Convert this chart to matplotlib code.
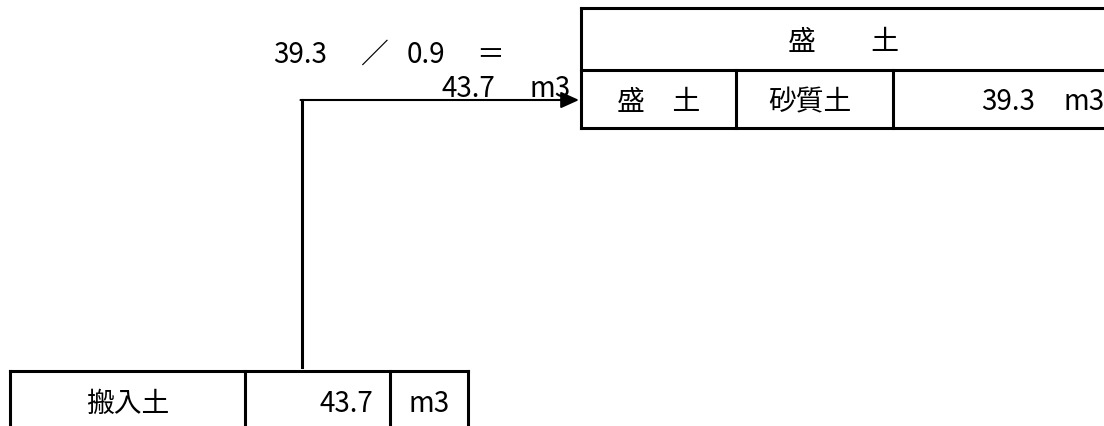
import matplotlib.pyplot as plt

plt.rcParams['font.family'] = ['Noto Sans CJK JP', 'DejaVu Sans']

# values
fill_volume = 39.3        # 盛土 (砂質土)
loosening_factor = 0.9
import_volume = 43.7      # 搬入土
unit = "m3"

header_label = "盛　　土"
row_labels = ["盛　土", "砂質土"]
import_label = "搬入土"

FS = 20
LW = 2.2

fig = plt.figure(figsize=(11.04, 4.27), dpi=100)
ax = fig.add_axes([0, 0, 1, 1])
ax.set_xlim(0, 1104)
ax.set_ylim(427, 0)
ax.axis("off")


def hline(x0, x1, y, lw=LW):
    ax.plot([x0, x1], [y, y], color="black", lw=lw, solid_capstyle="projecting")


def vline(x, y0, y1, lw=LW):
    ax.plot([x, x], [y0, y1], color="black", lw=lw, solid_capstyle="projecting")


# ---- fill table (top right) ----
left, c1, c2, right = 581, 736, 893, 1107
top, mid, bottom = 9, 71, 129
hline(left, right, top)
hline(left, right, mid)
hline(left, right, bottom)
vline(left, top, bottom)
vline(c1, mid, bottom)
vline(c2, mid, bottom)

ax.text((left + right) / 2, 50, header_label, fontsize=FS, ha="center", va="baseline")
ax.text((left + c1) / 2, 110, row_labels[0], fontsize=FS, ha="center", va="baseline")
ax.text((c1 + c2) / 2 - 5, 110, row_labels[1], fontsize=FS, ha="center", va="baseline")
ax.text(1035, 110, f"{fill_volume}", fontsize=FS, ha="right", va="baseline")
ax.text(1063, 110, unit, fontsize=FS, ha="left", va="baseline")

# ---- imported soil table (bottom left) ----
bl, bc1, bc2, br = 10, 245, 390, 468
btop = 372
hline(bl, br, btop)
vline(bl, btop, 440)
vline(bc1, btop, 440)
vline(bc2, btop, 440)
vline(br, btop, 440)

ax.text((bl + bc1) / 2, 412, import_label, fontsize=FS, ha="center", va="baseline")
ax.text(373, 412, f"{import_volume}", fontsize=FS, ha="right", va="baseline")
ax.text((bc2 + br) / 2, 412, unit, fontsize=FS, ha="center", va="baseline")

# ---- conversion note ----
ax.text(273, 63, f"{fill_volume}", fontsize=FS, ha="left", va="baseline")
ax.text(374, 63, "／", fontsize=FS, ha="center", va="baseline")
ax.text(407, 63, f"{loosening_factor}", fontsize=FS, ha="left", va="baseline")
ax.text(490, 63, "＝", fontsize=FS, ha="center", va="baseline")
ax.text(495, 97, f"{import_volume}", fontsize=FS, ha="right", va="baseline")
ax.text(530, 97, unit, fontsize=FS, ha="left", va="baseline")

# ---- flow arrow ----
ax.plot([301.5, 301.5], [368, 101], color="black", lw=LW)
ax.annotate("", xy=(579, 101), xytext=(300.5, 101),
            arrowprops=dict(arrowstyle="-|>,head_length=11,head_width=5",
                            mutation_scale=1, color="black", lw=1.5,
                            shrinkA=0, shrinkB=0))

fig.savefig("out.png", dpi=100)
